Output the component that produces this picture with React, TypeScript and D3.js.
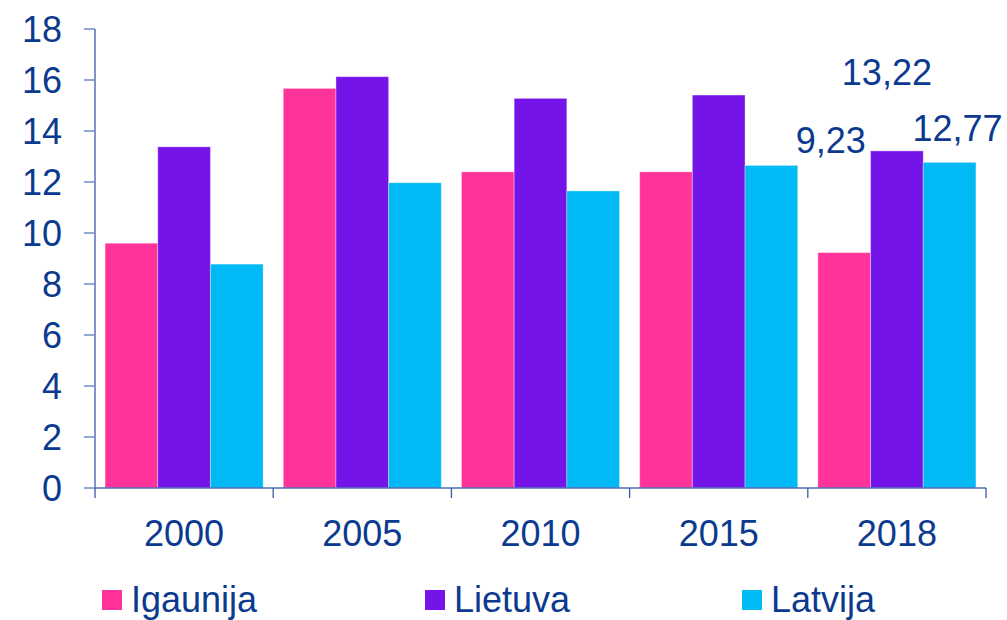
import React from "react";
import * as d3 from "d3";

const categories = ["2000", "2005", "2010", "2015", "2018"];
const seriesNames = ["Igaunija", "Lietuva", "Latvija"];
const igaunija = [9.6, 15.67, 12.4, 12.4, 9.23];
const lietuva = [13.38, 16.13, 15.28, 15.41, 13.22];
const latvija = [8.78, 11.97, 11.65, 12.65, 12.77];
const yTicks = [0, 2, 4, 6, 8, 10, 12, 14, 16, 18];
const colors = ["#FF3399", "#7514E8", "#00B9F5"];
const labels2018 = ["9,23", "13,22", "12,77"];

const W = 1007;
const H = 620;
const left = 95;
const right = 986;
const top = 29;
const bottom = 488;
const textColor = "#0B3A8E";
const font = "'Liberation Sans', Arial, sans-serif";

export default function App() {
  const series = [igaunija, lietuva, latvija];
  const x = d3.scaleBand<string>().domain(categories).range([left, right]).paddingInner(0.113).paddingOuter(0.0565);
  const xs = d3.scaleBand<string>().domain(seriesNames).range([0, x.bandwidth()]).padding(0);
  const y = d3.scaleLinear().domain([0, 18]).range([bottom, top]);
  const step = (right - left) / categories.length;
  const boundaries = d3.range(categories.length + 1).map((i) => left + i * step);

  const lastIdx = categories.length - 1;
  const labelPos = [
    { dx: -13.5, y: 153 },
    { dx: -10, y: 85 },
    { dx: 8, y: 141 },
  ];

  return (
    <svg width={W} height={H} style={{ position: "absolute", left: 0, top: 0, background: "#fff" }} fontFamily={font}>
      {/* bars */}
      {categories.map((c, ci) => (
        <g key={c} transform={`translate(${x(c)},0)`}>
          {series.map((s, si) => (
            <rect
              key={si}
              x={xs(seriesNames[si])}
              y={y(s[ci])}
              width={xs.bandwidth()}
              height={bottom - y(s[ci])}
              fill={colors[si]}
              stroke="rgba(255,255,255,0.35)"
              strokeWidth={1}
            />
          ))}
        </g>
      ))}
      {/* y axis */}
      <line x1={left} x2={left} y1={top} y2={bottom} stroke="#3A5BA8" strokeWidth={1.3} />
      {yTicks.map((t) => (
        <g key={t}>
          <line x1={84} x2={left} y1={y(t)} y2={y(t)} stroke="#6F8CC4" strokeWidth={1.5} />
          <text x={62} y={y(t)} dy="0.36em" textAnchor="end" fontSize={36} fill={textColor}>
            {t}
          </text>
        </g>
      ))}
      {/* x axis */}
      <line x1={left} x2={right} y1={bottom} y2={bottom} stroke="#4A6BB2" strokeWidth={1.5} />
      {boundaries.map((b, i) => (
        <line key={i} x1={b} x2={b} y1={bottom} y2={498} stroke="#3A5BA8" strokeWidth={1.3} />
      ))}
      {categories.map((c) => (
        <text key={c} x={(x(c) as number) + x.bandwidth() / 2} y={546} textAnchor="middle" fontSize={36} fill={textColor}>
          {c}
        </text>
      ))}
      {/* data labels 2018 */}
      {series.map((s, si) => (
        <text
          key={si}
          x={(x(categories[lastIdx]) as number) + (xs(seriesNames[si]) as number) + xs.bandwidth() / 2 + labelPos[si].dx}
          y={labelPos[si].y}
          textAnchor="middle"
          fontSize={36}
          fill={textColor}
        >
          {labels2018[si]}
        </text>
      ))}
      {/* legend */}
      {seriesNames.map((n, i) => {
        const lx = [102, 425, 742][i];
        return (
          <g key={n}>
            <rect x={lx} y={590} width={20} height={20} fill={colors[i]} />
            <text x={lx + 29} y={612} fontSize={36} fill={textColor}>
              {n}
            </text>
          </g>
        );
      })}
    </svg>
  );
}
